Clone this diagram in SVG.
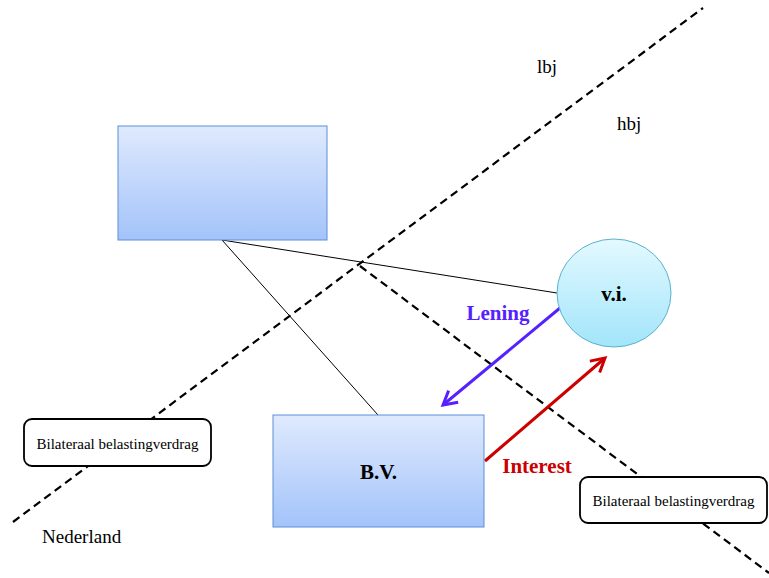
<svg xmlns="http://www.w3.org/2000/svg" width="769" height="578" viewBox="0 0 769 578">
<style>
text{font-family:"Liberation Serif","Times New Roman",serif;fill:#000}
.dash{stroke:#000;stroke-width:2.2;stroke-dasharray:8 5;fill:none}
.thin{stroke:#000;stroke-width:1;fill:none}
.box{fill:url(#gb);stroke:#5b8fd6;stroke-width:1}
.note{fill:#fff;stroke:#000;stroke-width:1.8}
.nt{font-size:15px;text-anchor:middle}
.lbl{font-size:21px;font-weight:bold;text-anchor:middle}
.pl{font-size:19px}
</style>
<defs>
<linearGradient id="gb" x1="0" y1="0" x2="0" y2="1">
<stop offset="0" stop-color="#dfeafd"/>
<stop offset="1" stop-color="#a3c3fa"/>
</linearGradient>
<linearGradient id="gc" x1="0" y1="0" x2="0" y2="1">
<stop offset="0" stop-color="#e3f9ff"/>
<stop offset="1" stop-color="#a2e5fa"/>
</linearGradient>
<marker id="ap" viewBox="0 0 12 12" refX="10" refY="6" markerWidth="6" markerHeight="6" orient="auto" markerUnits="strokeWidth">
<path d="M1,1 L10,6 L1,11" fill="none" stroke="#5522ff" stroke-width="2"/>
</marker>
<marker id="ar" viewBox="0 0 12 12" refX="10" refY="6" markerWidth="6" markerHeight="6" orient="auto" markerUnits="strokeWidth">
<path d="M1,1 L10,6 L1,11" fill="none" stroke="#cc0000" stroke-width="2"/>
</marker>
</defs>
<g id="borders">
<line class="dash" x1="13" y1="522" x2="703" y2="8"/>
<line class="dash" x1="360" y1="266" x2="769" y2="573"/>
</g>
<g id="connectors">
<line class="thin" x1="222" y1="240" x2="557" y2="293"/>
<line class="thin" x1="222" y1="240" x2="378" y2="415"/>
<line x1="560" y1="308" x2="443" y2="405" stroke="#5522ff" stroke-width="3" marker-end="url(#ap)"/>
<line x1="485" y1="461" x2="605" y2="358" stroke="#cc0000" stroke-width="3" marker-end="url(#ar)"/>
</g>
<g id="top-box">
<rect class="box" x="118" y="126" width="209" height="114"/>
</g>
<g id="bv">
<rect class="box" x="273" y="415" width="211" height="112"/>
<text class="lbl" x="378.5" y="479">B.V.</text>
</g>
<g id="vi">
<ellipse cx="614" cy="293" rx="57" ry="54" fill="url(#gc)" stroke="#5bb3cc" stroke-width="1"/>
<text class="lbl" x="614" y="301">v.i.</text>
</g>
<g id="note-left">
<rect class="note" x="24" y="419" width="187" height="47" rx="8"/>
<text class="nt" x="117.5" y="449">Bilateraal belastingverdrag</text>
</g>
<g id="note-right">
<rect class="note" x="580" y="477" width="187" height="46" rx="8"/>
<text class="nt" x="673.5" y="506">Bilateraal belastingverdrag</text>
</g>
<g id="labels">
<text class="lbl" x="498" y="320" style="fill:#5522ff">Lening</text>
<text class="lbl" x="537" y="473" style="fill:#cc0000">Interest</text>
<text class="pl" x="42" y="543">Nederland</text>
<text class="pl" x="537" y="73">lbj</text>
<text class="pl" x="617" y="130">hbj</text>
</g>
</svg>
